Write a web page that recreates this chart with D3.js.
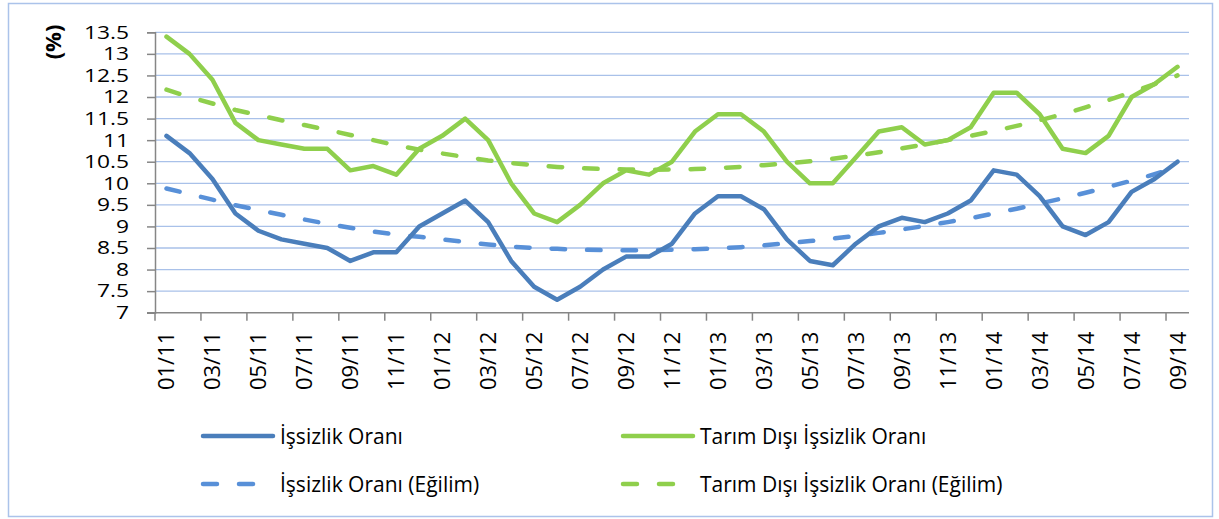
<!DOCTYPE html>
<html>
<head>
<meta charset="utf-8">
<script src="https://cdn.jsdelivr.net/npm/d3@7"></script>
<style>
  body { margin: 0; background: #fff; }
  text { font-family: "Open Sans", sans-serif; fill: #000; }
</style>
</head>
<body>
<div id="chart"></div>
<script>
// months 01/11 .. 09/14
const months = ["01/11","02/11","03/11","04/11","05/11","06/11","07/11","08/11","09/11","10/11","11/11","12/11",
  "01/12","02/12","03/12","04/12","05/12","06/12","07/12","08/12","09/12","10/12","11/12","12/12",
  "01/13","02/13","03/13","04/13","05/13","06/13","07/13","08/13","09/13","10/13","11/13","12/13",
  "01/14","02/14","03/14","04/14","05/14","06/14","07/14","08/14","09/14"];

const labelMonths = ["01/11","03/11","05/11","07/11","09/11","11/11","01/12","03/12","05/12","07/12","09/12","11/12",
  "01/13","03/13","05/13","07/13","09/13","11/13","01/14","03/14","05/14","07/14","09/14"];

const yTicks = [7, 7.5, 8, 8.5, 9, 9.5, 10, 10.5, 11, 11.5, 12, 12.5, 13, 13.5];
const yTickLabels = ["7","7.5","8","8.5","9","9.5","10","10.5","11","11.5","12","12.5","13","13.5"];

const unemployment = [11.1,10.7,10.1,9.3,8.9,8.7,8.6,8.5,8.2,8.4,8.4,9.0,
  9.3,9.6,9.1,8.2,7.6,7.3,7.6,8.0,8.3,8.3,8.6,9.3,
  9.7,9.7,9.4,8.7,8.2,8.1,8.6,9.0,9.2,9.1,9.3,9.6,
  10.3,10.2,9.7,9.0,8.8,9.1,9.8,10.1,10.5];

const nonFarm = [13.4,13.0,12.4,11.4,11.0,10.9,10.8,10.8,10.3,10.4,10.2,10.8,
  11.1,11.5,11.0,10.0,9.3,9.1,9.5,10.0,10.3,10.2,10.5,11.2,
  11.6,11.6,11.2,10.5,10.0,10.0,10.6,11.2,11.3,10.9,11.0,11.3,
  12.1,12.1,11.6,10.8,10.7,11.1,12.0,12.3,12.7];

// trend lines
const unemploymentTrend = [9.88,9.75,9.62,9.49,9.38,9.27,9.16,9.06,8.97,8.88,8.81,8.76,
  8.70,8.64,8.58,8.53,8.50,8.48,8.46,8.45,8.45,8.45,8.46,8.47,
  8.49,8.52,8.56,8.61,8.66,8.72,8.78,8.85,8.93,9.01,9.10,9.19,
  9.30,9.41,9.53,9.65,9.78,9.92,10.06,10.21,10.37];

const nonFarmTrend = [12.17,12.00,11.85,11.70,11.58,11.46,11.35,11.24,11.12,11.00,10.88,10.78,
  10.69,10.61,10.53,10.47,10.42,10.38,10.35,10.33,10.32,10.31,10.32,10.33,
  10.35,10.38,10.42,10.46,10.51,10.57,10.64,10.72,10.81,10.90,11.00,11.10,
  11.21,11.33,11.46,11.60,11.76,11.93,12.11,12.30,12.50];

const seriesNames = ["İşsizlik Oranı", "Tarım Dışı İşsizlik Oranı",
  "İşsizlik Oranı (Eğilim)", "Tarım Dışı İşsizlik Oranı (Eğilim)"];

const width = 1219, height = 519;
const margin = {top: 32.3, left: 155, right: 30, bottom: 206.3};

const svg = d3.select("#chart")
  .append("svg")
  .attr("width", width)
  .attr("height", height);

// outer border
svg.append("rect")
  .attr("x", 8.5).attr("y", 3.5)
  .attr("width", 1204).attr("height", 513)
  .attr("fill", "none")
  .attr("stroke", "#abc3ea")
  .attr("stroke-width", 1.5);

const xScale = d3.scaleBand()
  .domain(months)
  .range([margin.left, width - margin.right]) // 155 .. 1189
  .padding(0);

const yScale = d3.scaleLinear()
  .domain([7, 13.5])
  .range([height - margin.bottom, margin.top]);

const xc = d => xScale(d) + xScale.bandwidth() / 2;

// gridlines
svg.append("g")
  .selectAll("line")
  .data(yTicks.filter(d => d > 7))
  .enter()
  .append("line")
    .attr("x1", margin.left)
    .attr("x2", xScale.range()[1])
    .attr("y1", d => yScale(d))
    .attr("y2", d => yScale(d))
    .attr("stroke", "#a9c1e9")
    .attr("stroke-width", 1.3);

// y axis (labels drawn separately so they can be stretched like the original)
const yAxis = svg.append("g")
  .attr("transform", `translate(${margin.left},0)`)
  .call(d3.axisLeft(yScale)
    .tickValues(yTicks)
    .tickSize(8)
    .tickFormat(""));
yAxis.select(".domain").attr("stroke", "#868686").attr("stroke-width", 1.5);
yAxis.selectAll(".tick line").attr("stroke", "#868686").attr("stroke-width", 1.5);

svg.append("g")
  .selectAll("text")
  .data(yTicks)
  .enter()
  .append("text")
    .attr("transform", d => `translate(129,${yScale(d)}) scale(1.34,1.04)`)
    .attr("text-anchor", "end")
    .attr("dy", "0.36em")
    .attr("font-family", "Liberation Sans")
    .attr("font-size", 17)
    .text((d, i) => yTickLabels[i]);

// x axis line and tick marks
const baseY = yScale(7);
svg.append("line")
  .attr("x1", margin.left - 8).attr("x2", xScale.range()[1])
  .attr("y1", baseY).attr("y2", baseY)
  .attr("stroke", "#868686").attr("stroke-width", 1.5);

svg.append("g")
  .selectAll("line")
  .data(labelMonths)
  .enter()
  .append("line")
    .attr("x1", d => xScale(d))
    .attr("x2", d => xScale(d))
    .attr("y1", baseY)
    .attr("y2", baseY + 8)
    .attr("stroke", "#868686")
    .attr("stroke-width", 1.5);

// x labels
svg.append("g")
  .selectAll("text")
  .data(labelMonths)
  .enter()
  .append("text")
    .attr("transform", d => `translate(${xc(d) + 8},${baseY + 19}) rotate(-90)`)
    .attr("text-anchor", "end")
    .attr("font-size", 22)
    .text(d => d);

// y title
svg.append("text")
  .attr("transform", "translate(52,42) rotate(-90)")
  .attr("text-anchor", "middle")
  .attr("dominant-baseline", "central")
  .attr("font-size", 22)
  .attr("font-weight", "bold")
  .text("(%)");

// lines
const line = d3.line()
  .x((d, i) => xc(months[i]))
  .y(d => yScale(d));

const blue = "#4a7ebb", green = "#8fcf4c", blueTrend = "#5890d8";
const dash = "13.5,22";

function drawLine(values, color, dashed) {
  svg.append("path")
    .datum(values)
    .attr("fill", "none")
    .attr("stroke", color)
    .attr("stroke-width", 4.5)
    .attr("stroke-linejoin", "round")
    .attr("stroke-linecap", "round")
    .attr("stroke-dasharray", dashed ? dash : null)
    .attr("d", line);
}

drawLine(unemploymentTrend, blueTrend, true);
drawLine(nonFarmTrend, green, true);
drawLine(unemployment, blue, false);
drawLine(nonFarm, green, false);

// legend
const legendItems = [
  {name: seriesNames[0], color: blue, dashed: false, x: 203, y: 436},
  {name: seriesNames[1], color: green, dashed: false, x: 623, y: 436},
  {name: seriesNames[2], color: blueTrend, dashed: true, x: 203, y: 484},
  {name: seriesNames[3], color: green, dashed: true, x: 623, y: 484}
];

const legend = svg.append("g")
  .selectAll("g")
  .data(legendItems)
  .enter()
  .append("g")
    .attr("transform", d => `translate(${d.x},${d.y})`);

legend.append("line")
  .attr("x1", 0).attr("x2", d => d.dashed ? 56 : 70)
  .attr("y1", 0).attr("y2", 0)
  .attr("stroke", d => d.color)
  .attr("stroke-width", 4.5)
  .attr("stroke-linecap", "round")
  .attr("stroke-dasharray", d => d.dashed ? "14,22" : null);

legend.append("text")
  .attr("x", 77)
  .attr("y", 8)
  .attr("font-size", 21)
  .text(d => d.name);
</script>
</body>
</html>
